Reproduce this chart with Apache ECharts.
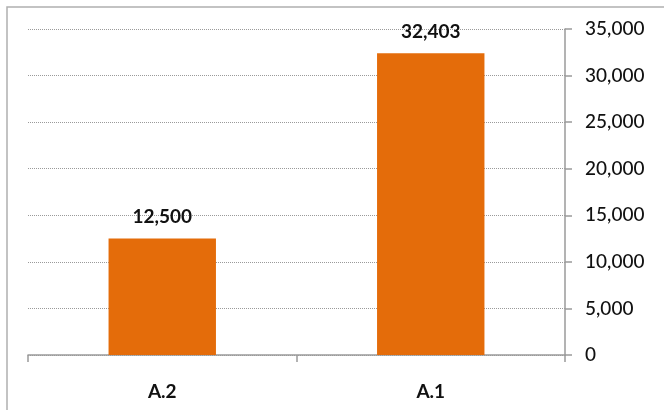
<!DOCTYPE html>
<html>
<head>
<meta charset="utf-8">
<script src="https://cdn.jsdelivr.net/npm/echarts@6/dist/echarts.min.js"></script>
<style>
html,body{margin:0;padding:0;background:#fff;}
#chart{width:664px;height:410px;}
</style>
</head>
<body>
<div id="chart"></div>
<script>
const categories = ['A.2', 'A.1'];
const values = [12500, 32403];
const yMin = 0;
const yMax = 35000;
const yInterval = 5000;

const chart = echarts.init(document.getElementById('chart'), null, {renderer: 'canvas'});
const fmt = v => v.toLocaleString('en-US');
chart.setOption({
  animation: false,
  backgroundColor: '#fff',
  graphic: [{
    type: 'rect',
    shape: {x: 7, y: 7, width: 720, height: 460},
    style: {fill: 'none', stroke: '#b0b0b0', lineWidth: 1.5},
    silent: true
  }],
  grid: {left: 28, right: 99, top: 29, bottom: 55, containLabel: false},
  xAxis: {
    type: 'category',
    data: categories,
    axisLine: {lineStyle: {color: '#9a9a9a', width: 1.5}},
    axisTick: {show: true, length: 7, lineStyle: {color: '#9a9a9a', width: 1.5}},
    axisLabel: {fontFamily: 'Lato', fontWeight: 'bold', fontSize: 19, color: '#111', margin: 27}
  },
  yAxis: {
    type: 'value',
    position: 'right',
    min: yMin, max: yMax, interval: yInterval,
    axisLine: {show: true, lineStyle: {color: '#9a9a9a', width: 1.5}},
    axisTick: {show: true, length: 7, lineStyle: {color: '#9a9a9a', width: 1.5}},
    splitLine: {show: true, lineStyle: {color: '#9a9a9a', type: 'dotted', width: 1}},
    axisLabel: {fontFamily: 'Lato', fontWeight: 500, fontSize: 19, color: '#111', margin: 20, formatter: v => fmt(v)}
  },
  series: [{
    type: 'bar',
    data: values,
    barWidth: '40%',
    itemStyle: {color: '#E46C0A'},
    label: {
      show: true, position: 'top', distance: 12,
      fontFamily: 'Lato', fontWeight: 'bold', fontSize: 19, color: '#111',
      formatter: p => fmt(p.value)
    }
  }]
});
</script>
</body>
</html>
